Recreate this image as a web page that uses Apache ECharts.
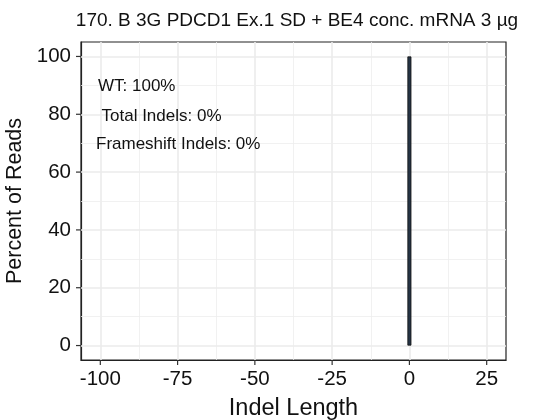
<!DOCTYPE html>
<html>
<head>
<meta charset="utf-8">
<script src="https://cdn.jsdelivr.net/npm/echarts@6/dist/echarts.min.js"></script>
<style>
html,body{margin:0;padding:0;background:#fff;}
#chart{width:545px;height:420px;}
</style>
</head>
<body>
<div id="chart"></div>
<script>
// Data
const indelLengths = [0];
const percentReads = [100];
const xTicks = [-100, -75, -50, -25, 0, 25];
const xMinorTicks = [-87.5, -62.5, -37.5, -12.5, 12.5];
const yTicks = [0, 20, 40, 60, 80, 100];
const yMinorTicks = [10, 30, 50, 70, 90];
const annotations = ['WT: 100%', 'Total Indels: 0%', 'Frameshift Indels: 0%'];
const titleText = '170. B 3G PDCD1 Ex.1 SD + BE4 conc. mRNA 3 µg';

const X_MIN = -106.25, X_MAX = 31.25, Y_MIN = -5, Y_MAX = 105;
const FONT = 'Liberation Sans, Arial, Helvetica, sans-serif';
const chart = echarts.init(document.getElementById('chart'), null, {renderer: 'canvas'});

const gridLines = [];
xTicks.forEach(v => gridLines.push({xAxis: v, lineStyle: {color: '#EBEBEB', width: 1.6, type: 'solid'}}));
xMinorTicks.forEach(v => gridLines.push({xAxis: v, lineStyle: {color: '#EDEDED', width: 0.8, type: 'solid'}}));
yTicks.forEach(v => gridLines.push({yAxis: v, lineStyle: {color: '#EBEBEB', width: 1.6, type: 'solid'}}));
yMinorTicks.forEach(v => gridLines.push({yAxis: v, lineStyle: {color: '#EDEDED', width: 0.8, type: 'solid'}}));

const annoPos = [[98, 86.7], [101.5, 116], [96, 144]];
const TICK_LEN = 5;

chart.setOption({
  animation: false,
  backgroundColor: '#fff',
  grid: {
    left: 81, right: 39, top: 42, bottom: 60,
    containLabel: false, outerBoundsMode: 'none',
    show: true, backgroundColor: '#fff', borderColor: '#222', borderWidth: 1.2
  },
  xAxis: {
    type: 'value', min: X_MIN, max: X_MAX,
    name: 'Indel Length', nameLocation: 'middle', nameGap: 37,
    nameTextStyle: {fontFamily: FONT, fontSize: 23.5, color: '#111'},
    axisLine: {show: true, onZero: false, lineStyle: {color: '#222', width: 1.2}},
    axisTick: {show: false},
    axisLabel: {fontFamily: FONT, fontSize: 20.5, color: '#111', margin: 9, customValues: xTicks},
    splitLine: {show: false}
  },
  yAxis: {
    type: 'value', min: Y_MIN, max: Y_MAX,
    name: 'Percent of Reads', nameLocation: 'middle', nameGap: 54,
    nameTextStyle: {fontFamily: FONT, fontSize: 21.5, color: '#111'},
    axisLine: {show: true, onZero: false, lineStyle: {color: '#222', width: 1.2}},
    axisTick: {show: false},
    axisLabel: {fontFamily: FONT, fontSize: 20.5, color: '#111', margin: 10, customValues: yTicks},
    splitLine: {show: false}
  },
  series: [
    {
      type: 'line', data: [], silent: true, z: 1,
      markLine: {silent: true, symbol: 'none', z: 1, label: {show: false}, animation: false, data: gridLines}
    },
    {
      type: 'bar', z: 3,
      data: indelLengths.map((x, i) => [x, percentReads[i]]),
      barWidth: 4,
      itemStyle: {color: '#263445', borderColor: '#111', borderWidth: 0.8}
    }
  ]
});

// Axis ticks and texts: tick positions computed through the chart's own axis scales.
const graphics = [{
  type: 'text', x: 297, y: 21, z: 10,
  style: {text: titleText, fontFamily: FONT, fontSize: 19, fill: '#111', textAlign: 'center', textVerticalAlign: 'middle'}
}].concat(annotations.map((t, i) => ({
  type: 'text', x: annoPos[i][0], y: annoPos[i][1], z: 10,
  style: {text: t, fontFamily: FONT, fontSize: 17, fill: '#111', textVerticalAlign: 'middle', textAlign: 'left'}
})));
xTicks.forEach(v => {
  const p = chart.convertToPixel({xAxisIndex: 0, yAxisIndex: 0}, [v, Y_MIN]);
  graphics.push({type: 'line', z: 100, silent: true,
    shape: {x1: p[0], y1: p[1], x2: p[0], y2: p[1] + TICK_LEN},
    style: {stroke: '#333333', lineWidth: 1.2}});
});
yTicks.forEach(v => {
  const p = chart.convertToPixel({xAxisIndex: 0, yAxisIndex: 0}, [X_MIN, v]);
  graphics.push({type: 'line', z: 100, silent: true,
    shape: {x1: p[0], y1: p[1], x2: p[0] - TICK_LEN, y2: p[1]},
    style: {stroke: '#333333', lineWidth: 1.2}});
});
chart.setOption({graphic: graphics});
</script>
</body>
</html>
